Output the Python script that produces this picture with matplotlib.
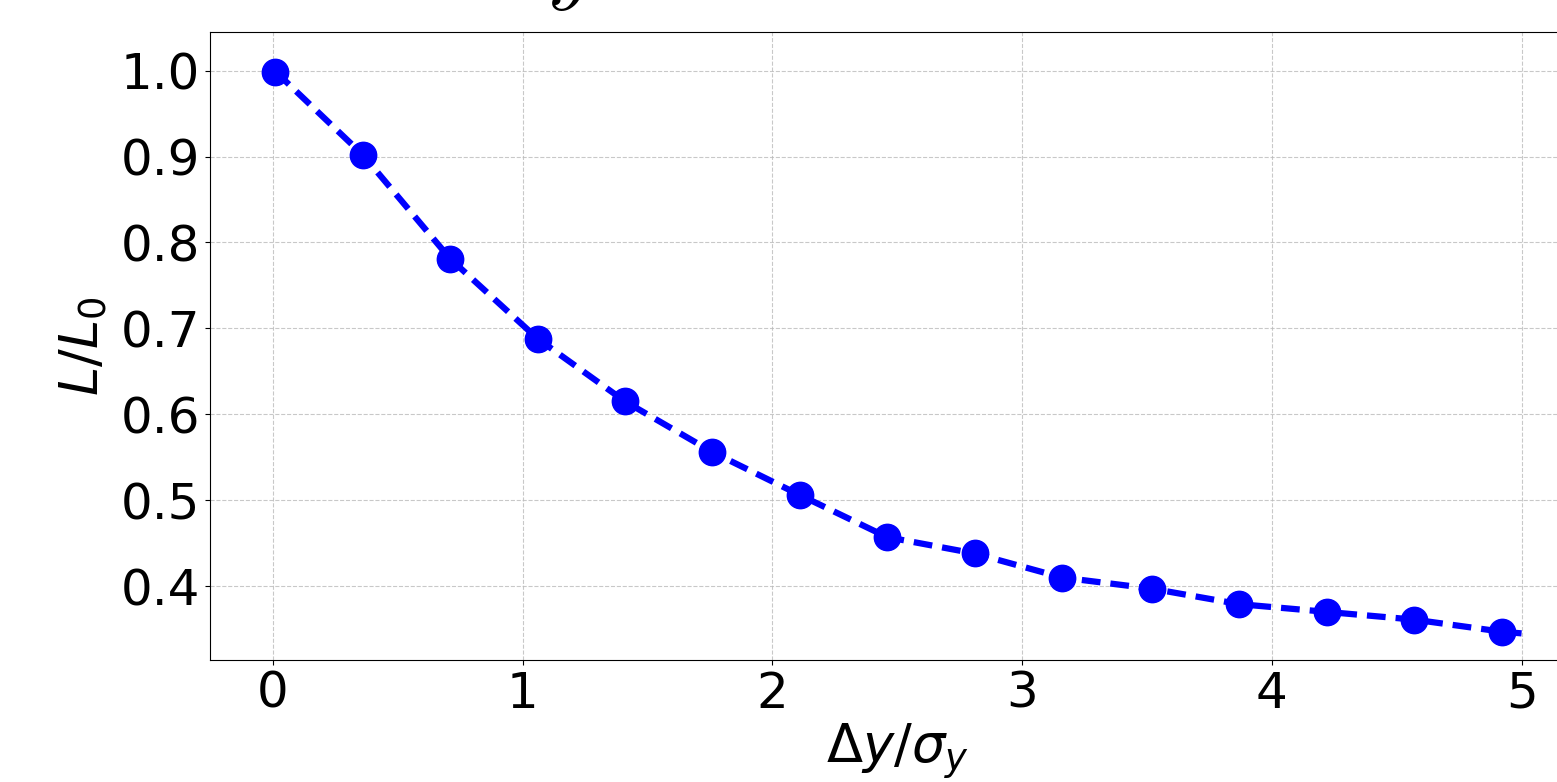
import numpy as np
import matplotlib.pyplot as plt

# offsets (in units of sigma_y) and normalised luminosity
dy = [0.01, 0.36, 0.71, 1.06, 1.41, 1.76, 2.11, 2.46, 2.81, 3.16, 3.52, 3.87, 4.22, 4.57, 4.92]
lum = [0.999, 0.902, 0.781, 0.688, 0.615, 0.556, 0.506, 0.457, 0.438, 0.410,
       0.397, 0.379, 0.370, 0.361, 0.347]
# dashed curve runs to the end of the scan range
curve_x = dy + [5.0]
curve_y = lum + [0.345]

fig = plt.figure(figsize=(15.57, 7.82), dpi=100)
ax = fig.add_axes([210/1557, 1 - 660/782, (1584-210)/1557, (660-32)/782])

ax.plot(curve_x, curve_y, '--', color='blue', lw=4.5, dashes=(3, 1.6))
ax.plot(dy, lum, 'o', color='blue', ms=19)

ax.set_xlim(-0.252, 5.25)
ax.set_ylim(0.314, 1.045)
ax.set_xticks([0, 1, 2, 3, 4, 5])
ax.set_yticks([0.4, 0.5, 0.6, 0.7, 0.8, 0.9, 1.0])
ax.tick_params(labelsize=36)
ax.set_xlabel(r'$\Delta y/\sigma_y$', fontsize=38, labelpad=3)
ax.set_ylabel(r'$L/L_0$', fontsize=38, labelpad=8)
ax.grid(True, linestyle='--', color='#bbbbbb', alpha=0.8)

# title sits mostly above the visible area
fig.text(0.351, 0.984, r'$y$', fontsize=62, math_fontfamily='cm', ha='left', va='bottom')

fig.savefig('out.png', dpi=100)
